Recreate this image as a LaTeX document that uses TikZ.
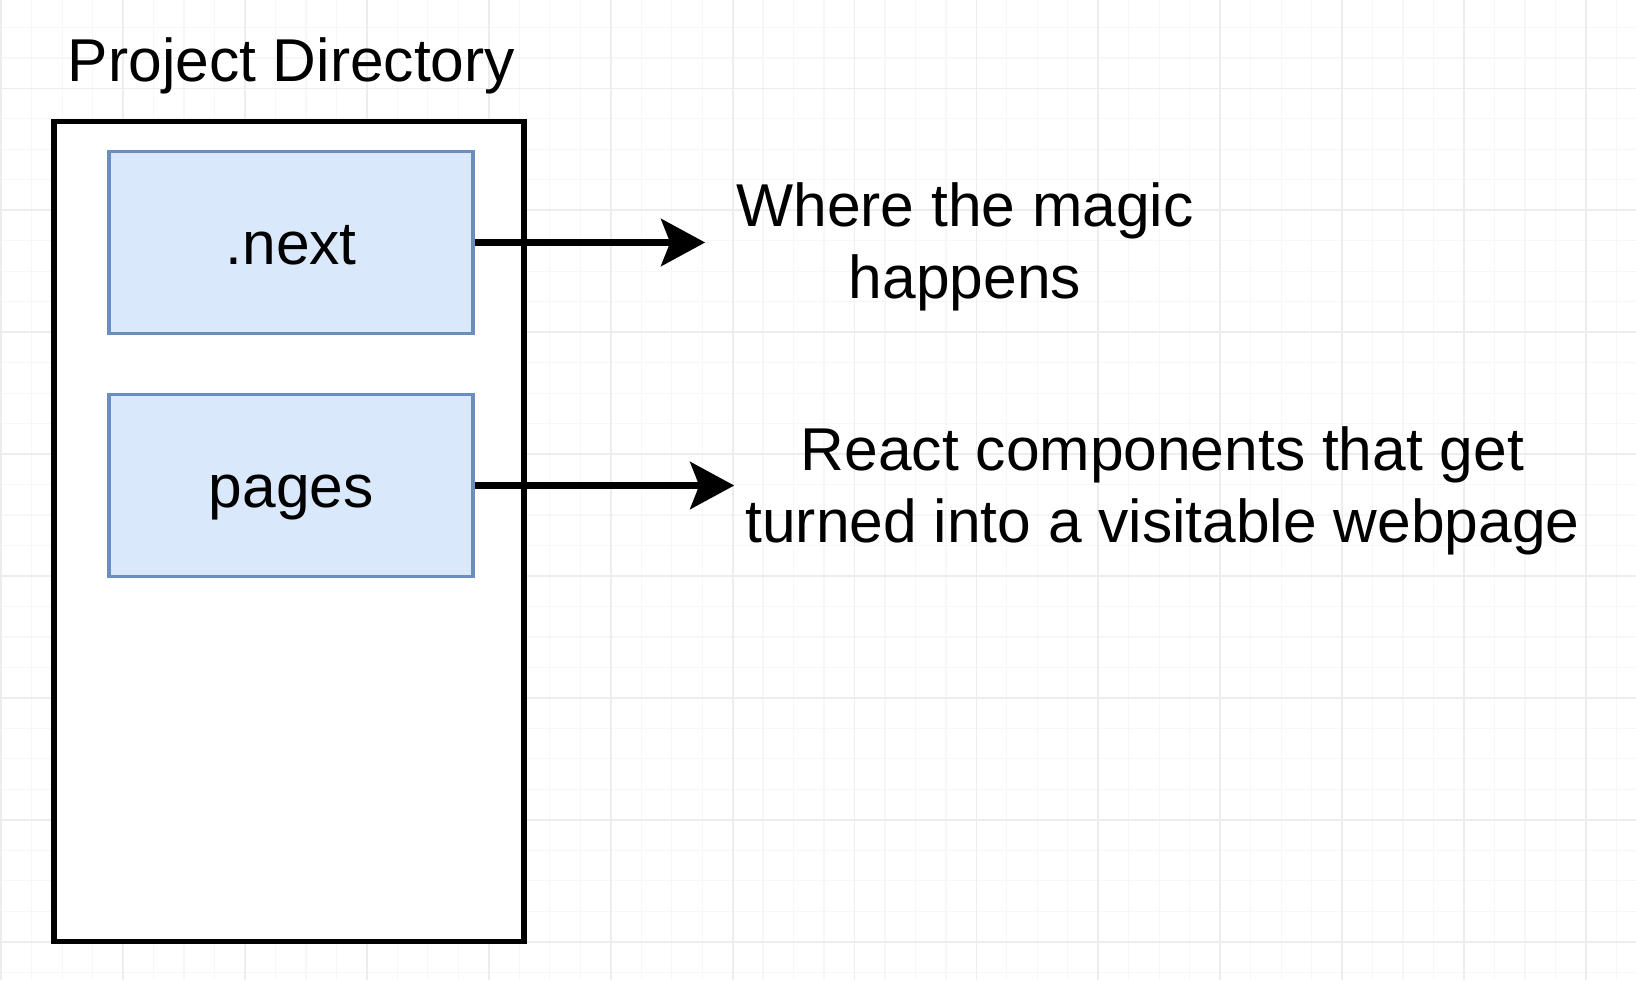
\documentclass[tikz,border=0pt]{standalone}
\usepackage{fontspec}
\setmainfont{Liberation Sans}
\usetikzlibrary{arrows.meta}
\definecolor{gridmajor}{HTML}{EDEDED}
\definecolor{gridminor}{HTML}{F7F7F7}
\definecolor{boxfill}{HTML}{DAE8FC}
\definecolor{boxline}{HTML}{6C8EBF}
\newcommand\bigtext{\fontsize{60.5}{72}\selectfont}
\tikzset{
  dirbox/.style={draw=black, line width=5.5pt, fill=white, minimum width=470pt, minimum height=820pt, inner sep=0pt},
  folder/.style={draw=boxline, fill=boxfill, line width=3.5pt, minimum width=364pt, minimum height=182pt, inner sep=0pt, text height=43pt, text depth=0pt, font=\bigtext},
  note/.style={align=center, inner sep=0pt, font=\bigtext},
  link/.style={line width=7pt, -{Stealth[length=44pt, width=47pt, inset=9pt]}},
  minorline/.style={draw=gridminor, line width=1.2pt},
  majorline/.style={draw=gridmajor, line width=1.8pt},
}
\begin{document}
\begin{tikzpicture}[x=1pt,y=-1pt]
\useasboundingbox (0,0) rectangle (1636,980);
\fill[white] (0,0) rectangle (1636,980);
\foreach \k in {0,...,53} \draw[minorline] ({1.2+30.475*\k},0) -- ++(0,980);
\foreach \k in {0,...,33} \draw[minorline] (0,{-33.5+30.475*\k}) -- ++(1636,0);
\foreach \k in {0,...,13} \draw[majorline] ({1.2+121.9*\k},0) -- ++(0,980);
\foreach \k in {0,...,8} \draw[majorline] (0,{-33.5+121.9*\k}) -- ++(1636,0);
\node[dirbox] (dir) at (289, 531.5) {};
\node[anchor=base, font=\bigtext, inner sep=0pt] (title) at (291.5, 81.7) {Project Directory};
\node[folder] (next) at (291.2, 242.5) {.next};
\node[folder] (pages) at (291.2, 485.5) {pages};
\node[note, anchor=base] (t1) at (965, 298) {Where the magic\\happens};
\node[note, anchor=base] (t2) at (1162.5, 542.7) {React components that get\\turned into a visitable webpage};
\draw[link, shorten >=31pt] (next.east) -- (next.east -| t1.west);
\draw[link, shorten >=11pt] (pages.east) -- (pages.east -| t2.west);
\end{tikzpicture}
\end{document}
